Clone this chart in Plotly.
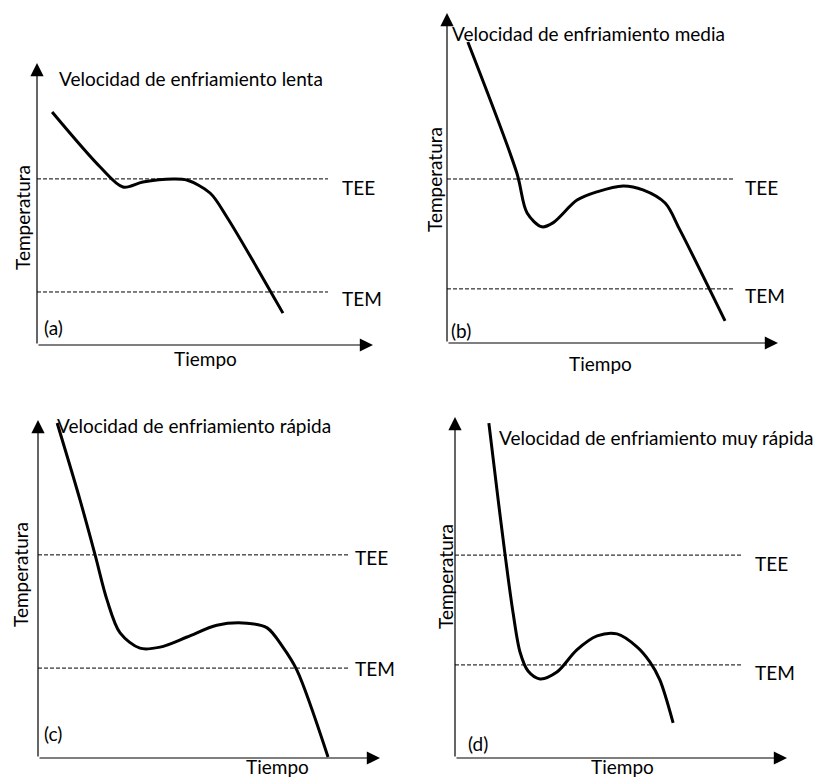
import plotly.graph_objects as go

W, H = 814, 778
FONT = "Lato"
FONT_SIZE = 19

# Cooling curves: time (0-100, along the arrowed axis) vs temperature (0-100)
time_a = [4.5, 18.8, 25.6, 31.5, 40.5, 44.6, 51.5, 56.5, 73.2]
temp_a = [82.6, 63.1, 56.0, 57.8, 58.9, 58.5, 53.9, 45.4, 11.3]

time_b = [6.3, 21.1, 24.2, 28.7, 32.0, 39.3, 45.3, 53.2, 59.2, 65.9, 70.4, 84.0]
temp_b = [91.2, 51.5, 39.4, 35.2, 36.4, 43.3, 45.8, 47.6, 46.4, 42.4, 34.2, 6.7]

time_c = [5.6, 12.3, 16.7, 20.2, 24.0, 29.8, 35.7, 43.6, 52.3, 61.1, 67.0, 71.6, 75.7, 84.8]
temp_c = [99.1, 76.3, 60.1, 46.7, 37.0, 32.5, 32.8, 35.8, 39.3, 39.9, 38.5, 32.8, 26.0, 0.3]

time_d = [10.2, 13.0, 15.1, 17.5, 19.6, 22.0, 25.6, 30.7, 36.7, 42.8, 48.8, 54.8, 58.7, 61.7, 65.7]
temp_d = [98.2, 75.7, 59.5, 42.5, 31.0, 25.5, 23.2, 25.2, 31.7, 35.8, 36.4, 32.6, 28.2, 22.9, 10.3]

# Reference temperatures (TEE, TEM) per panel and the extent of their dashed lines
tee = [58.9, 49.7, 60.1, 59.5]
tem = [18.8, 16.4, 26.6, 27.3]
ref_end = [86.6, 87.0, 91.2, 86.7]

titles = [
    "Velocidad de enfriamiento lenta",
    "Velocidad de enfriamiento media",
    "Velocidad de enfriamiento rápida",
    "Velocidad de enfriamiento muy rápida",
]
tags = ["(a)", "(b)", "(c)", "(d)"]

curves = [(time_a, temp_a), (time_b, temp_b), (time_c, temp_c), (time_d, temp_d)]

# Panel frames in pixels: origin x, origin y, x-arrow tip, y-arrow tip
frames = [
    (37, 345, 373, 63),
    (447, 343, 778, 13),
    (38, 758, 380, 420),
    (455, 758, 787, 417),
]

# Text placement in pixels
title_pos = [(57, 78), (450, 33), (55, 425), (497, 437)]
tag_pos = [(42, 328), (449, 330), (42, 733), (466, 743)]
xlab_pos = [(205, 358), (600, 363), (277, 766), (622, 766)]
ylab_pos = [(22, 218), (434, 180), (20, 575), (445, 577)]
tee_pos = [(340, 187), (743, 187), (353, 557), (753, 563)]
tem_pos = [(340, 298), (743, 295), (353, 668), (753, 672)]


def px(x):
    return x / W


def py(y):
    return 1 - y / H


fig = go.Figure()
annotations = []
layout_axes = {}

for i, ((t, T), (x0, y0, x1, y1)) in enumerate(zip(curves, frames)):
    n = "" if i == 0 else str(i + 1)
    xa, ya = "x" + n, "y" + n
    layout_axes["xaxis" + n] = dict(
        domain=[px(x0), px(x1)], range=[0, 100], visible=False,
        anchor=ya, fixedrange=True,
    )
    layout_axes["yaxis" + n] = dict(
        domain=[py(y0), py(y1)], range=[0, 100], visible=False,
        anchor=xa, fixedrange=True,
    )

    # dashed reference temperatures
    for level in (tee[i], tem[i]):
        fig.add_trace(go.Scatter(
            x=[0, ref_end[i]], y=[level, level], mode="lines",
            line=dict(color="black", width=1, dash="4px,2px"),
            xaxis=xa, yaxis=ya, hoverinfo="skip", showlegend=False,
        ))

    # cooling curve
    fig.add_trace(go.Scatter(
        x=t, y=T, mode="lines",
        line=dict(color="black", width=3, shape="spline", smoothing=0.9),
        xaxis=xa, yaxis=ya, showlegend=False,
    ))

    # arrowed axes
    for tip in ((100, 0), (0, 100)):
        annotations.append(dict(
            x=tip[0], y=tip[1], ax=0, ay=0, xref=xa, yref=ya, axref=xa, ayref=ya,
            showarrow=True, arrowhead=2, arrowsize=2.2, arrowwidth=1.2,
            arrowcolor="black", text="",
        ))

    font = dict(family=FONT, size=FONT_SIZE, color="black")
    annotations += [
        dict(x=px(title_pos[i][0]), y=py(title_pos[i][1]), xref="paper", yref="paper",
             text=titles[i], showarrow=False, xanchor="left", yanchor="middle", font=font),
        dict(x=px(tag_pos[i][0]), y=py(tag_pos[i][1]), xref="paper", yref="paper",
             text=tags[i], showarrow=False, xanchor="left", yanchor="middle", font=font),
        dict(x=px(xlab_pos[i][0]), y=py(xlab_pos[i][1]), xref="paper", yref="paper",
             text="Tiempo", showarrow=False, xanchor="center", yanchor="middle", font=font),
        dict(x=px(ylab_pos[i][0]), y=py(ylab_pos[i][1]), xref="paper", yref="paper",
             text="Temperatura", showarrow=False, textangle=-90,
             xanchor="center", yanchor="middle", font=font),
        dict(x=px(tee_pos[i][0]), y=py(tee_pos[i][1]), xref="paper", yref="paper",
             text="TEE", showarrow=False, xanchor="left", yanchor="middle", font=font),
        dict(x=px(tem_pos[i][0]), y=py(tem_pos[i][1]), xref="paper", yref="paper",
             text="TEM", showarrow=False, xanchor="left", yanchor="middle", font=font),
    ]

fig.update_layout(
    width=W, height=H,
    margin=dict(l=0, r=0, t=0, b=0),
    paper_bgcolor="white", plot_bgcolor="rgba(0,0,0,0)",
    annotations=annotations,
    **layout_axes,
)

fig.write_html("out.html", config={"displayModeBar": False})
